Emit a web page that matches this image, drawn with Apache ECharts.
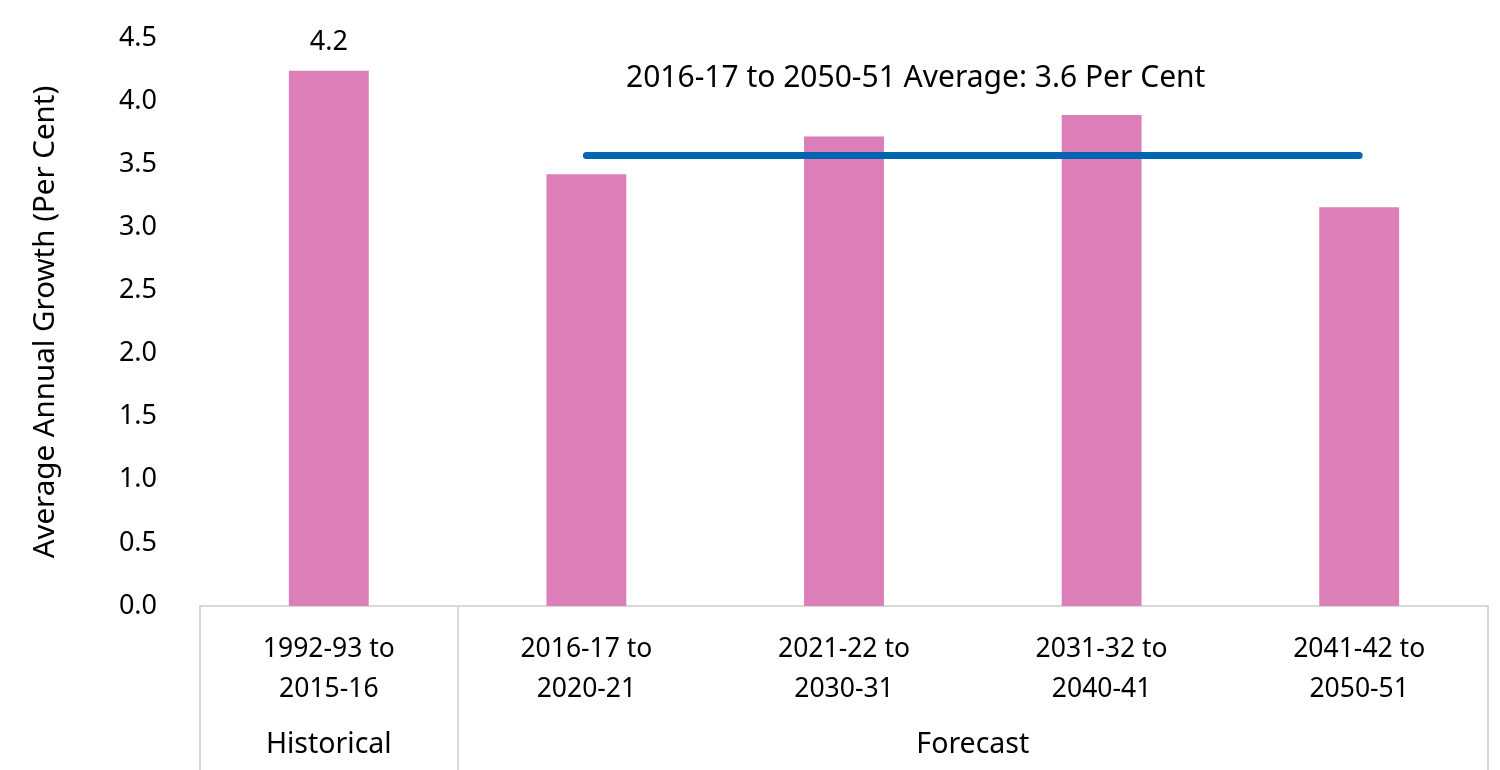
<!DOCTYPE html>
<html>
<head>
<meta charset="utf-8">
<script src="https://cdn.jsdelivr.net/npm/echarts@6/dist/echarts.min.js"></script>
<style>
html,body{margin:0;padding:0;background:#fff;}
#chart{width:1500px;height:770px;}
</style>
</head>
<body>
<div id="chart"></div>
<script>
const categories = ['1992-93 to\n2015-16', '2016-17 to\n2020-21', '2021-22 to\n2030-31', '2031-32 to\n2040-41', '2041-42 to\n2050-51'];
const growth = [4.24, 3.42, 3.72, 3.89, 3.16];
const averageLine = [null, 3.57, 3.57, 3.57, 3.57];
const groupNames = ['Historical', 'Forecast'];
const groupSizes = [1, 4];
const yTicks = [0, 4.5, 0.5];
const averageText = '2016-17 to 2050-51 Average: 3.6 Per Cent';

const FONT = 'Noto Sans';

// group boundaries and centres derived from group sizes
const boundaries = [];
const centres = [];
let acc = 0;
groupSizes.forEach(s => { boundaries.push(acc); centres.push(acc + s / 2); acc += s; });

const chart = echarts.init(document.getElementById('chart'));
chart.setOption({
  backgroundColor: '#ffffff',
  animation: false,
  textStyle: { fontFamily: FONT },
  title: {
    text: averageText,
    left: 621, top: 58,
    textStyle: { fontFamily: FONT, fontSize: 30, fontWeight: 'normal', color: '#000' }
  },
  grid: { left: 200, right: 12, top: 38, bottom: 164, containLabel: false },
  xAxis: [
    {
      type: 'category',
      data: categories,
      position: 'bottom',
      axisLine: { show: true, lineStyle: { color: '#d9d9d9', width: 2 } },
      axisTick: {
        show: true, length: 170,
        interval: (idx) => boundaries.indexOf(idx) >= 0,
        lineStyle: { color: '#d9d9d9', width: 2 }
      },
      axisLabel: {
        interval: 0, margin: 23, fontFamily: FONT, fontSize: 26.5, color: '#000', lineHeight: 40
      },
      splitLine: { show: false }
    },
    {
      type: 'value',
      min: 0, max: acc, interval: 0.5,
      position: 'bottom',
      axisLine: { show: false },
      axisTick: { show: false },
      splitLine: { show: false },
      axisLabel: {
        margin: 124, fontFamily: FONT, fontSize: 28.5, color: '#000',
        showMinLabel: true, showMaxLabel: true,
        formatter: (v) => {
          const i = centres.findIndex(c => Math.abs(c - v) < 1e-6);
          return i >= 0 ? groupNames[i] : '';
        }
      }
    }
  ],
  yAxis: {
    type: 'value',
    min: yTicks[0], max: yTicks[1], interval: yTicks[2],
    name: 'Average Annual Growth (Per Cent)',
    nameLocation: 'middle',
    nameGap: 139,
    nameTextStyle: { fontFamily: FONT, fontSize: 29.5, color: '#000' },
    axisLine: { show: false },
    axisTick: { show: false },
    splitLine: { show: false },
    axisLabel: { margin: 43, fontFamily: FONT, fontSize: 27, color: '#000', formatter: v => v.toFixed(1) }
  },
  series: [
    {
      type: 'bar',
      xAxisIndex: 0,
      data: growth.map((v, i) => i === 0 ? { value: v, label: { show: true } } : v),
      barWidth: '31%',
      itemStyle: { color: '#dc7eb8' },
      label: {
        show: false, position: 'top', distance: 15,
        fontFamily: FONT, fontSize: 27, color: '#000',
        formatter: p => p.value.toFixed(1)
      }
    },
    {
      type: 'line',
      xAxisIndex: 0,
      data: averageLine,
      showSymbol: false,
      symbol: 'none',
      lineStyle: { color: '#0066b3', width: 7, cap: 'round' },
      z: 5
    }
  ]
});
</script>
</body>
</html>
